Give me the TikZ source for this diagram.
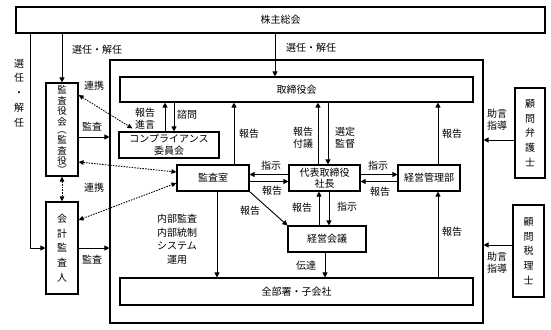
\documentclass[tikz,border=0pt]{standalone}
\usepackage{fontspec}
\setmainfont{Noto Sans CJK JP}
\usetikzlibrary{arrows.meta,calc}
\begin{document}
\begin{tikzpicture}[x=1pt,y=-1pt,
  every node/.style={font=\fontsize{10}{12}\selectfont},
  box/.style={draw,line width=1.1pt,rectangle,inner sep=0pt,align=center},
  vbox/.style={box,font=\fontsize{10}{14.8}\selectfont},
  arr/.style={-{Triangle[length=5pt,width=5pt]},line width=0.9pt},
  darr/.style={{Triangle[length=5pt,width=4.5pt]}-{Triangle[length=5pt,width=4.5pt]},line width=0.9pt,dash pattern=on 1.5pt off 1.2pt},
  lbl/.style={align=center,inner sep=0pt},
  vlbl/.style={lbl,font=\fontsize{10}{14.8}\selectfont}]
\useasboundingbox (0,0) rectangle (551,329);
% boxes
\node[box,minimum width=529pt,minimum height=26pt] (kabu) at (280.5,20) {株主総会};
\node[box,minimum width=373pt,minimum height=263pt] (frame) at (296.5,191.5) {};
\node[box,minimum width=353pt,minimum height=25pt] (tori) at (296.5,89.5) {取締役会};
\node[box,minimum width=32pt,minimum height=93pt,font=\fontsize{9.5}{10.6}\selectfont] (kyaku) at (62,129.5) {監\\査\\役\\会\\[-2pt]︵\\[-1pt]監\\査\\役\\[-2pt]︶};
\node[vbox,minimum width=32pt,minimum height=92pt] (kaikei) at (62,248) {会\\計\\監\\査\\人};
\node[box,minimum width=100pt,minimum height=26pt,font=\fontsize{10}{11.5}\selectfont] (comp) at (169,145) {コンプライアンス\\委員会};
\node[box,minimum width=72pt,minimum height=26pt] (kshitsu) at (213,178) {監査室};
\node[box,minimum width=71pt,minimum height=26pt,font=\fontsize{10}{11.5}\selectfont] (daihyo) at (324.5,178) {代表取締役\\社長};
\node[box,minimum width=62pt,minimum height=26pt] (kanri) at (429,178) {経営管理部};
\node[box,minimum width=78pt,minimum height=26pt] (kaigi) at (327,239) {経営会議};
\node[box,minimum width=353pt,minimum height=27pt] (zen) at (296.5,291.5) {全部署・子会社};
\node[vbox,minimum width=30pt,minimum height=90pt] (bengo) at (530,133) {顧\\問\\弁\\護\\士};
\node[vbox,minimum width=31pt,minimum height=92pt] (zeiri) at (528.5,251) {顧\\問\\税\\理\\士};
% election arrows
\draw[arr] (kabu.south -| kyaku.north) -- (kyaku.north);
\draw[arr] (kabu.south -| 275,0) -- (tori.north -| 275,0);
\draw[arr] (kabu.south -| 30,0) |- (kaikei.west);
\node[lbl] at (97,50) {選任・解任};
\node[lbl] at (311,48) {選任・解任};
\node[vlbl] at (19,93) {選\\任\\・\\解\\任};
% audit
\draw[arr] (kyaku.east |- 0,137) -- (frame.west |- 0,137);
\node[lbl] at (92,127) {監査};
\draw[arr] (kaikei.east |- 0,248) -- (frame.west |- 0,248);
\node[lbl] at (92,260) {監査};
% cooperation (dotted)
\draw[darr] (kyaku.east |- 0,95) -- ($(comp.north west)+(14,-3)$);
\node[lbl] at (94,86) {連携};
\draw[darr] (kyaku.east |- 0,162) -- (kshitsu.west |- 0,172);
\draw[darr] (kyaku.south) -- (kaikei.north);
\node[lbl] at (94,188) {連携};
\draw[darr] (kaikei.east |- 0,220) -- (kshitsu.west |- 0,183);
% compliance <-> board
\draw[arr] (165,0 |- comp.north) -- (165,0 |- tori.south);
\draw[arr] (174,0 |- tori.south) -- (174,0 |- comp.north);
\node[lbl] at (145,119) {報告\\進言};
\node[lbl] at (187,115) {諮問};
% audit office -> board
\draw[arr] (234,0 |- kshitsu.north) -- (234,0 |- tori.south);
\node[lbl] at (249,134) {報告};
% president <-> board
\draw[arr] (318,0 |- daihyo.north) -- (318,0 |- tori.south);
\draw[arr] (328,0 |- tori.south) -- (328,0 |- daihyo.north);
\node[lbl] at (303,138) {報告\\付議};
\node[lbl] at (345,138) {選定\\監督};
% management dept -> board
\draw[arr] (438,0 |- kanri.north) -- (438,0 |- tori.south);
\node[lbl] at (452,134) {報告};
% audit office <-> president
\draw[arr] (daihyo.west |- 0,174.5) -- (kshitsu.east |- 0,174.5);
\draw[arr] (kshitsu.east |- 0,181.5) -- (daihyo.west |- 0,181.5);
\node[lbl] at (271,166) {指示};
\node[lbl] at (272,191) {報告};
% president <-> management dept
\draw[arr] (daihyo.east |- 0,174.5) -- (kanri.west |- 0,174.5);
\draw[arr] (kanri.west |- 0,181.5) -- (daihyo.east |- 0,181.5);
\node[lbl] at (378,166) {指示};
\node[lbl] at (380,192) {報告};
% audit office -> management meeting
\draw[arr] (kshitsu.south east) -- (kaigi.north west);
\node[lbl] at (250,211) {報告};
% meeting <-> president
\draw[arr] (319,0 |- kaigi.north) -- (319,0 |- daihyo.south);
\draw[arr] (329,0 |- daihyo.south) -- (329,0 |- kaigi.north);
\node[lbl] at (302,208) {報告};
\node[lbl] at (347,207) {指示};
% to all departments
\draw[arr] (217,0 |- kshitsu.south) -- (217,0 |- zen.north);
\node[lbl,font=\fontsize{10}{13.5}\selectfont] at (177,239) {内部監査\\内部統制\\システム\\運用};
\draw[arr] (325,0 |- kaigi.south) -- (325,0 |- zen.north);
\node[lbl] at (306,266) {伝達};
\draw[arr] (438,0 |- zen.north) -- (438,0 |- kanri.south);
\node[lbl] at (452,232) {報告};
% advisors
\draw[arr] (bengo.west |- 0,140) -- (frame.east |- 0,140);
\node[lbl] at (497,120) {助言\\指導};
\draw[arr] (zeiri.west |- 0,245) -- (frame.east |- 0,245);
\node[lbl] at (497,263) {助言\\指導};
\end{tikzpicture}
\end{document}
